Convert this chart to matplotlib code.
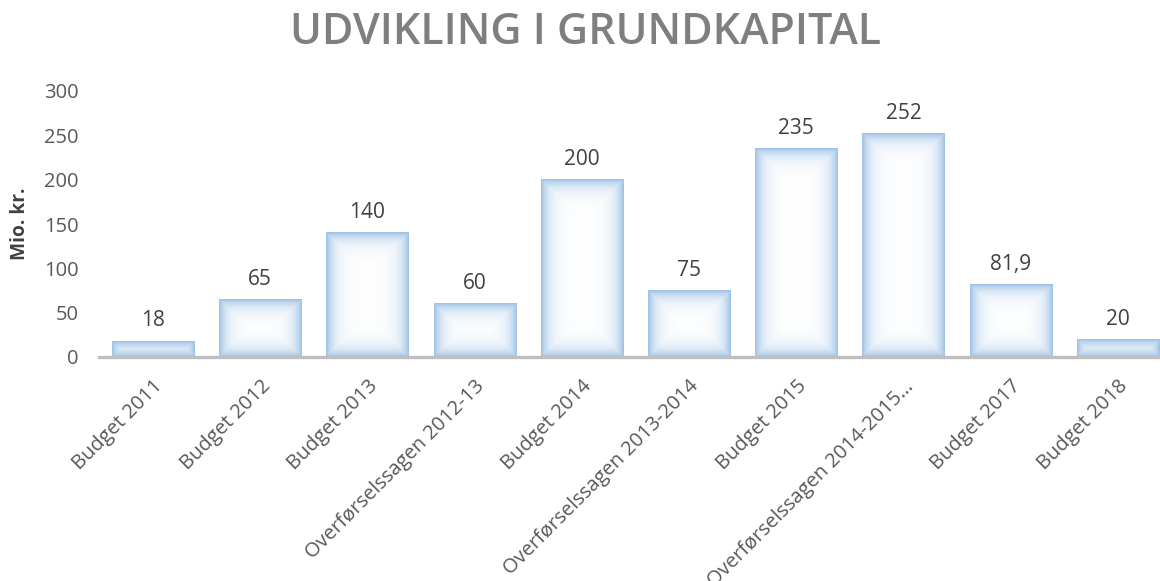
import numpy as np
import matplotlib.pyplot as plt
from matplotlib.colors import to_rgb

# ---------------------------------------------------------
# Data
# ---------------------------------------------------------
categories = ["Budget 2011", "Budget 2012", "Budget 2013",
              "Overførselssagen 2012-13", "Budget 2014",
              "Overførselssagen 2013-2014", "Budget 2015",
              "Overførselssagen 2014-2015…", "Budget 2017", "Budget 2018"]
values = [18, 65, 140, 60, 200, 75, 235, 252, 81.9, 20]
value_labels = ["18", "65", "140", "60", "200", "75", "235", "252", "81,9", "20"]
yticks = [0, 50, 100, 150, 200, 250, 300]

plt.rcParams['font.family'] = ['Open Sans', 'DejaVu Sans']

W, H = 1160, 581
fig = plt.figure(figsize=(W/100, H/100), dpi=100)
# pitch ~107.2 px per category, first bar centre at x=153
ax = fig.add_axes([99.4/W, 1 - 357/H, 1072/W, (357 - 91)/H])

n = len(categories)
x = np.arange(n)
width = 0.765

ax.set_xlim(-0.5, n - 0.5)
ax.set_ylim(0, 300)

# ---------------------------------------------------------
# Bars with soft blue edge glow
# ---------------------------------------------------------
edge = np.array(to_rgb("#94bce3"))
white = np.array([1.0, 1.0, 1.0])
for xi, v, lab in zip(x, values, value_labels):
    x0, x1 = xi - width/2, xi + width/2
    p0 = ax.transData.transform((x0, 0))
    p1 = ax.transData.transform((x1, v))
    wpx = max(int(round(p1[0] - p0[0])), 2)
    hpx = max(int(round(p1[1] - p0[1])), 2)
    jj, ii = np.meshgrid(np.arange(wpx) + 0.5, np.arange(hpx) + 0.5)
    dx = np.minimum(jj, wpx - jj)
    dy = np.minimum(ii, hpx - ii)
    d = np.minimum(dx, dy)
    t = 0.95 * np.exp(-d / 8.0)
    img = white[None, None, :] * (1 - t[..., None]) + edge[None, None, :] * t[..., None]
    ax.imshow(img, extent=(x0, x1, 0, v), aspect='auto',
              interpolation='bilinear', zorder=2, origin='lower')
    ax.text(xi, v + 11, lab, ha='center', va='bottom',
            fontsize=15, color='#404040')

ax.set_xlim(-0.5, n - 0.5)
ax.set_ylim(0, 300)

# ---------------------------------------------------------
# Axes styling
# ---------------------------------------------------------
for s in ['top', 'right', 'left']:
    ax.spines[s].set_visible(False)
ax.spines['bottom'].set_color('#bfbfbf')
ax.spines['bottom'].set_linewidth(2.4)
ax.spines['bottom'].set_zorder(3)

ax.set_yticks(yticks)
ax.set_yticklabels([str(t) for t in yticks], fontsize=14.5, color='#595959')
ax.tick_params(axis='y', length=0, pad=15)

ax.set_xticks(x)
ax.set_xticklabels(categories, rotation=45, ha='right', rotation_mode='anchor',
                   fontsize=14.5, color='#595959')
ax.tick_params(axis='x', length=0, pad=14)

ax.set_ylabel("Mio. kr.", fontsize=13.8, fontweight='bold', color='#404040', labelpad=10)

fig.text(585/W, 1 - 32/H, "UDVIKLING I GRUNDKAPITAL", ha='center', va='center',
         fontsize=31, fontweight='semibold', color='#7f7f7f')

fig.savefig("out.png", dpi=100)
